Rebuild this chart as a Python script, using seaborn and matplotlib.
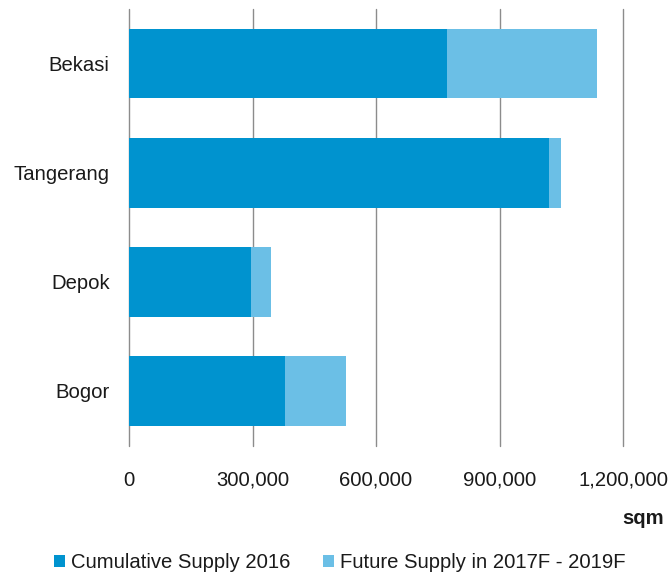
import matplotlib
matplotlib.use("Agg")
import matplotlib.pyplot as plt
from matplotlib.patches import Patch
import seaborn as sns
import pandas as pd

# Industrial land supply by region (sqm)
regions = ["Bekasi", "Tangerang", "Depok", "Bogor"]
cumulative_2016 = [772000, 1020000, 296000, 378000]
future_2017_2019 = [365000, 29000, 49000, 150000]
x_ticks = [0, 300000, 600000, 900000, 1200000]
x_tick_labels = ["0", "300,000", "600,000", "900,000", "1,200,000"]
series_names = ["Cumulative Supply 2016", "Future Supply in 2017F - 2019F"]

dark_blue = "#0093cf"
light_blue = "#6bbfe6"
text_color = "#1a1a1a"
font_size = 14.6

sns.set_theme(style="white")
plt.rcParams["font.family"] = ["Liberation Sans", "DejaVu Sans"]

df = pd.DataFrame({
    "region": regions,
    "cumulative": cumulative_2016,
    "future": future_2017_2019,
})
df["total"] = df["cumulative"] + df["future"]

fig = plt.figure(figsize=(6.71, 5.78), dpi=100)
ax = fig.add_axes([129 / 671, 1 - 445.5 / 578, (623 - 129) / 671, (445.5 - 9) / 578])

# Stacked bars: total in light blue underneath, 2016 stock in dark blue on top
sns.barplot(data=df, y="region", x="total", orient="h", color=light_blue,
            width=0.64, saturation=1, linewidth=0, ax=ax)
sns.barplot(data=df, y="region", x="cumulative", orient="h", color=dark_blue,
            width=0.64, saturation=1, linewidth=0, ax=ax)

ax.set_xlim(0, 1200000)
ax.set_ylim(3.5, -0.5)
ax.set_xticks(x_ticks)
ax.set_xticklabels(x_tick_labels)
ax.set_xlabel("")
ax.set_ylabel("")
for s in ax.spines.values():
    s.set_visible(False)
ax.grid(axis="x", color="#8c8c8c", linewidth=1.0)
ax.grid(axis="y", visible=False)
ax.set_axisbelow(True)
for gl in ax.get_xgridlines():
    gl.set_clip_on(False)
ax.tick_params(axis="x", length=0, pad=18, labelsize=font_size, colors=text_color)
ax.tick_params(axis="y", length=0, pad=14, labelsize=font_size, colors=text_color)

fig.text(664 / 671, 1 - 518 / 578, "sqm", ha="right", va="center",
         fontsize=font_size, fontweight="bold", color=text_color)

handles = [Patch(facecolor=dark_blue, edgecolor="none"),
           Patch(facecolor=light_blue, edgecolor="none")]
fig.legend(handles, series_names, loc="center",
           bbox_to_anchor=(340 / 671, 1 - 563 / 578), ncol=2, frameon=False,
           fontsize=font_size, handlelength=0.55, handleheight=0.55,
           handletextpad=0.3, columnspacing=1.6, labelcolor=text_color)

fig.savefig("out.png", dpi=100)
